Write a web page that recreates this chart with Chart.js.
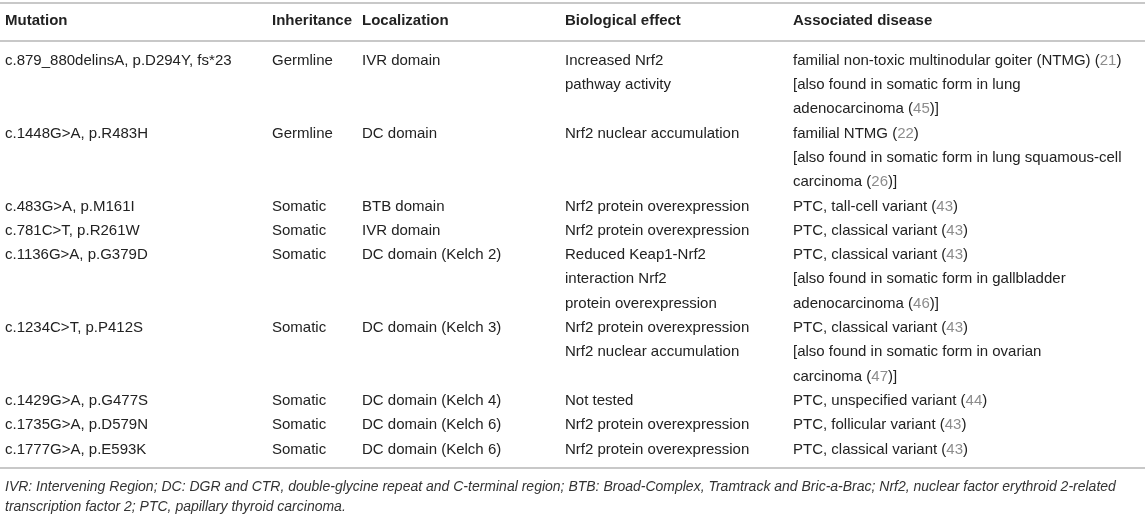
<!DOCTYPE html>
<html>
<head>
<meta charset="utf-8">
<title>Keap1 mutations</title>
<script src="https://cdn.jsdelivr.net/npm/chart.js@4.4.1/dist/chart.umd.min.js"></script>
<style>
  html, body { margin: 0; padding: 0; background: #fff; }
  #wrap { width: 1145px; height: 519px; position: relative; }
</style>
</head>
<body>
<div id="wrap"><canvas id="myChart"></canvas></div>
<script>
// table content, one entry per row
var headers = ['Mutation', 'Inheritance', 'Localization', 'Biological effect', 'Associated disease'];

var mutations = [
    'c.879_880delinsA, p.D294Y, fs*23',
    'c.1448G>A, p.R483H',
    'c.483G>A, p.M161I',
    'c.781C>T, p.R261W',
    'c.1136G>A, p.G379D',
    'c.1234C>T, p.P412S',
    'c.1429G>A, p.G477S',
    'c.1735G>A, p.D579N',
    'c.1777G>A, p.E593K'
];

var inheritance = ['Germline', 'Germline', 'Somatic', 'Somatic', 'Somatic', 'Somatic', 'Somatic', 'Somatic', 'Somatic'];

var localization = [
    'IVR domain', 'DC domain', 'BTB domain', 'IVR domain', 'DC domain (Kelch 2)',
    'DC domain (Kelch 3)', 'DC domain (Kelch 4)', 'DC domain (Kelch 6)', 'DC domain (Kelch 6)'
];

var effects = [
    ['Increased Nrf2', 'pathway activity'],
    ['Nrf2 nuclear accumulation'],
    ['Nrf2 protein overexpression'],
    ['Nrf2 protein overexpression'],
    ['Reduced Keap1-Nrf2', 'interaction Nrf2', 'protein overexpression'],
    ['Nrf2 protein overexpression', 'Nrf2 nuclear accumulation'],
    ['Not tested'],
    ['Nrf2 protein overexpression'],
    ['Nrf2 protein overexpression']
];

var diseases = [
    ['familial non-toxic multinodular goiter (NTMG) (21)', '[also found in somatic form in lung', 'adenocarcinoma (45)]'],
    ['familial NTMG (22)', '[also found in somatic form in lung squamous-cell', 'carcinoma (26)]'],
    ['PTC, tall-cell variant (43)'],
    ['PTC, classical variant (43)'],
    ['PTC, classical variant (43)', '[also found in somatic form in gallbladder', 'adenocarcinoma (46)]'],
    ['PTC, classical variant (43)', '[also found in somatic form in ovarian', 'carcinoma (47)]'],
    ['PTC, unspecified variant (44)'],
    ['PTC, follicular variant (43)'],
    ['PTC, classical variant (43)']
];

var footnote = [
    'IVR: Intervening Region; DC: DGR and CTR, double-glycine repeat and C-terminal region; BTB: Broad-Complex, Tramtrack and Bric-a-Brac; Nrf2, nuclear factor erythroid 2-related',
    'transcription factor 2; PTC, papillary thyroid carcinoma.'
];

// layout (x in px along the x scale, y in text-line units along the y scale)
var colX = [5, 272, 362, 565, 793];
var LINE_PX = 24.3;
var FIRST_LINE_PX = 60.6;
var H = 519;
var yMin = -FIRST_LINE_PX / LINE_PX;
var yMax = yMin + H / LINE_PX;
var headerY = -1.63;
var rulesY = [-2.35, -0.80, 16.77];
var footY = [17.55, 18.37];

var TEXT = '#222222';
var CITE = '#8c8c8c';
var RULE = '#c8c8c8';
var FONT = '"Liberation Sans", Arial, Helvetica, sans-serif';

function cellLines(r) {
    return [[mutations[r]], [inheritance[r]], [localization[r]], effects[r], diseases[r]];
}

// draw a line of text, citation numbers in grey
function drawRich(ctx, text, x, y) {
    var parts = text.split(/(\(\d+\))/);
    for (var i = 0; i < parts.length; i++) {
        var p = parts[i];
        if (!p) continue;
        if (/^\(\d+\)$/.test(p)) {
            var num = p.slice(1, -1);
            ctx.fillStyle = TEXT;
            ctx.fillText('(', x, y);
            x += ctx.measureText('(').width;
            ctx.fillStyle = CITE;
            ctx.fillText(num, x, y);
            x += ctx.measureText(num).width;
            ctx.fillStyle = TEXT;
            ctx.fillText(')', x, y);
            x += ctx.measureText(')').width;
        } else {
            ctx.fillStyle = TEXT;
            ctx.fillText(p, x, y);
            x += ctx.measureText(p).width;
        }
    }
}

var tablePlugin = {
    id: 'tableText',
    afterDraw: function (chart) {
        var ctx = chart.ctx;
        var xs = chart.scales.x;
        var ys = chart.scales.y;
        ctx.save();

        // rules
        ctx.strokeStyle = RULE;
        ctx.lineWidth = 2;
        rulesY.forEach(function (v) {
            var py = Math.round(ys.getPixelForValue(v));
            ctx.beginPath();
            ctx.moveTo(xs.getPixelForValue(0), py);
            ctx.lineTo(xs.getPixelForValue(1145), py);
            ctx.stroke();
        });

        ctx.textBaseline = 'middle';
        ctx.textAlign = 'left';

        // header
        ctx.font = 'bold 15px ' + FONT;
        ctx.fillStyle = TEXT;
        headers.forEach(function (h, c) {
            ctx.fillText(h, xs.getPixelForValue(colX[c]), ys.getPixelForValue(headerY));
        });

        // body
        ctx.font = '15px ' + FONT;
        var line = 0;
        for (var r = 0; r < mutations.length; r++) {
            var cells = cellLines(r);
            var n = 1;
            cells.forEach(function (lines, c) {
                n = Math.max(n, lines.length);
                lines.forEach(function (t, k) {
                    drawRich(ctx, t, xs.getPixelForValue(colX[c]), ys.getPixelForValue(line + k));
                });
            });
            line += n;
        }

        // footnote
        ctx.font = 'italic 14px ' + FONT;
        ctx.fillStyle = '#333333';
        footnote.forEach(function (t, k) {
            ctx.fillText(t, xs.getPixelForValue(colX[0]), ys.getPixelForValue(footY[k]), 1122);
        });

        ctx.restore();
    }
};

var ctx = document.getElementById('myChart').getContext('2d');
var myChart = new Chart(ctx, {
    type: 'scatter',
    data: { datasets: [] },
    options: {
        responsive: true,
        maintainAspectRatio: false,
        animation: false,
        layout: { padding: 0 },
        plugins: { legend: { display: false }, tooltip: { enabled: false } },
        scales: {
            x: { type: 'linear', min: 0, max: 1145, display: false },
            y: { type: 'linear', min: yMin, max: yMax, reverse: true, display: false }
        }
    },
    plugins: [tablePlugin]
});
</script>
</body>
</html>
